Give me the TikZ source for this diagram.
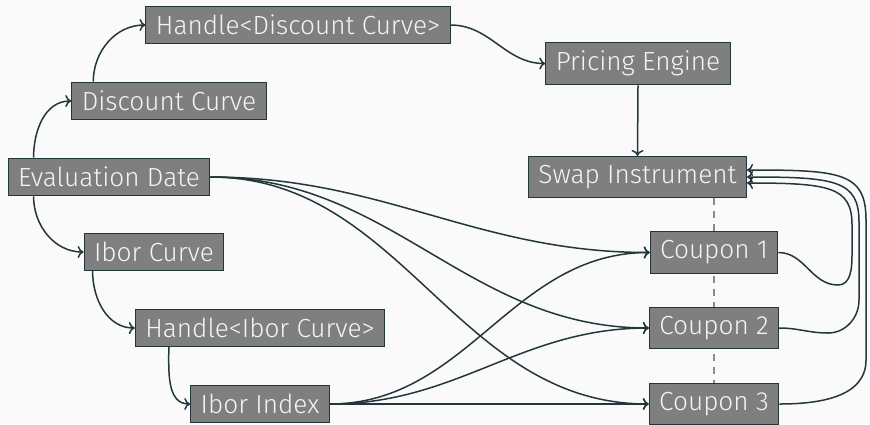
\documentclass[tikz,border=0pt]{standalone}
\usepackage{fontspec}
\setmainfont{Fira Sans Light}
\usetikzlibrary{arrows.meta,backgrounds}
\definecolor{bgc}{HTML}{FAFAFA}
\definecolor{teal}{HTML}{23373B}
\definecolor{boxfill}{HTML}{7F7F7F}
\definecolor{boxtext}{HTML}{F4F4F4}
\definecolor{dashc}{HTML}{8A8A8A}
\tikzset{
  box/.style={draw=teal, line width=0.5pt, fill=boxfill, text=boxtext,
    inner xsep=5pt, inner ysep=4.4pt, font=\fontsize{13.1}{15}\selectfont},
  conn/.style={draw=teal, line width=0.75pt, -{To[length=3pt,width=6pt]}},
  guide/.style={draw=dashc, line width=0.6pt, dash pattern=on 3.5pt off 3pt}
}
\begin{document}
\begin{tikzpicture}[x=0.5pt,y=-0.5pt]
\useasboundingbox (0,0) rectangle (870,424);
\node[box] (hdc) at (298,25) {Handle<Discount Curve>};
\node[box] (dc) at (169,101) {Discount Curve};
\node[box] (ed) at (109,177) {Evaluation Date};
\node[box] (pe) at (638,63.5) {Pricing Engine};
\node[box] (si) at (637.5,177) {Swap Instrument};
\node[box] (ic) at (154,252) {Ibor Curve};
\node[box] (hic) at (260,328) {Handle<Ibor Curve>};
\node[box] (ii) at (260,404) {Ibor Index};
\node[box] (c1) at (714,252.5) {Coupon 1};
\node[box] (c2) at (714,328) {Coupon 2};
\node[box] (c3) at (714,404) {Coupon 3};
\begin{scope}[on background layer]
  \fill[bgc] (0,0) rectangle (870,424);
  \draw[guide] (si.south -| c1.north) -- (c3.north);
\end{scope}
% left tree
\draw[conn] ([xshift=13pt]ed.north west) to[out=90,in=180] (dc.west);
\draw[conn] ([xshift=11pt]dc.north west) to[out=90,in=180] (hdc.west);
\draw[conn] (hdc.east) to[out=0,in=180] (pe.west);
\draw[conn] (pe.south) -- (si.north);
\draw[conn] ([xshift=13pt]ed.south west) to[out=-90,in=180] (ic.west);
\draw[conn] ([xshift=4.5pt]ic.south west) to[out=-90,in=180] (hic.west);
\draw[conn] ([xshift=17pt]hic.south west) to[out=-90,in=180] (ii.west);
% fan to coupons
\draw[conn] (ed.east) to[out=0,in=180] (c1.west);
\draw[conn] (ed.east) to[out=0,in=180] (c2.west);
\draw[conn] (ed.east) to[out=0,in=180] (c3.west);
\draw[conn] (ii.east) to[out=0,in=180] (c1.west);
\draw[conn] (ii.east) to[out=0,in=180] (c2.west);
\draw[conn] (ii.east) -- (c3.west);
% loops back to swap
\draw[conn] (c1.east) to[out=0,in=180] (838,285) to[out=0,in=-90] (852,255)
  -- (852,225) .. controls (852,187) and (830,183) .. ([yshift=-3pt]si.east);
\draw[conn] (c2.east) to[out=0,in=180] (828,333) to[out=0,in=-90] (859,300)
  -- (859,222) .. controls (859,180) and (835,177) .. (si.east);
\draw[conn] (c3.east) to[out=0,in=-90] (866,360)
  -- (866,220) .. controls (866,172) and (840,170) .. ([yshift=3.5pt]si.east);
\end{tikzpicture}
\end{document}
